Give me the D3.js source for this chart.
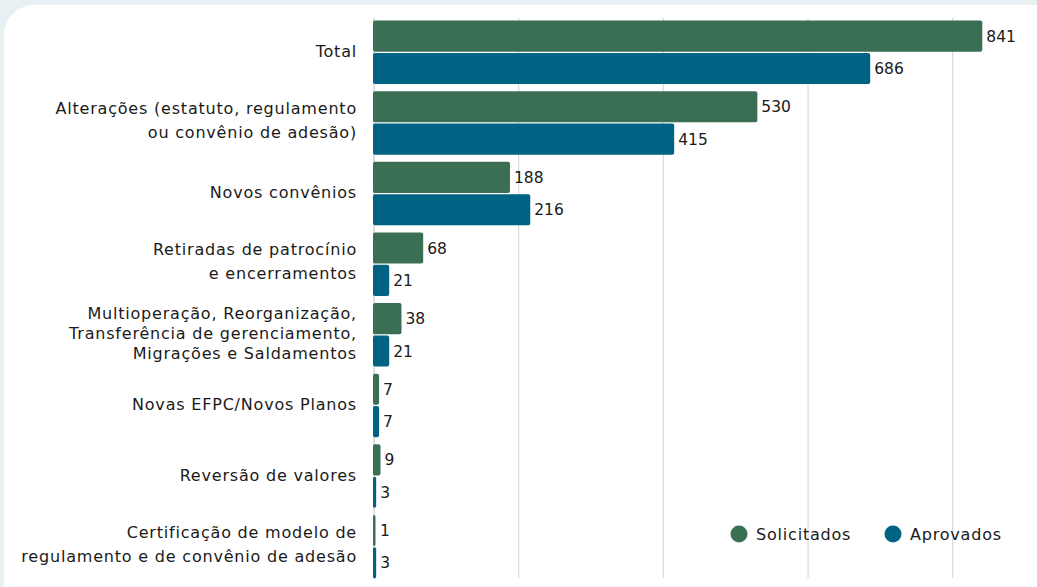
<!DOCTYPE html>
<html>
<head>
<meta charset="utf-8">
<script src="https://cdn.jsdelivr.net/npm/d3@7"></script>
<style>
  html, body { margin: 0; padding: 0; background: #e9f0f3; }
  svg { display: block; font-family: 'DejaVu Sans', sans-serif; }
  .cat, .leg { letter-spacing: 0.8px; }
</style>
</head>
<body>
<div></div>
<script>
const w = 1037;
const h = 587;

// data
const categories = [
  ['Total'],
  ['Alterações (estatuto, regulamento', 'ou convênio de adesão)'],
  ['Novos convênios'],
  ['Retiradas de patrocínio', 'e encerramentos'],
  ['Multioperação, Reorganização,', 'Transferência de gerenciamento,', 'Migrações e Saldamentos'],
  ['Novas EFPC/Novos Planos'],
  ['Reversão de valores'],
  ['Certificação de modelo de', 'regulamento e de convênio de adesão']
];
const solicitados = [841, 530, 188, 68, 38, 7, 9, 1];
const aprovados = [686, 415, 216, 21, 21, 7, 3, 3];
const seriesNames = ['Solicitados', 'Aprovados'];
const seriesColors = ['#3a6f54', '#006383'];
const gridTicks = [200, 400, 600, 800];

const svg = d3
  .select('body')
  .select('div')
  .append('svg')
  .attr('width', w)
  .attr('height', h);

// card
svg
  .append('rect')
  .attr('x', 4)
  .attr('y', 5)
  .attr('width', 1060)
  .attr('height', 640)
  .attr('rx', 30)
  .style('fill', '#ffffff');

const x = d3.scaleLinear().domain([0, 900]).range([374, 1025]);

const y = d3
  .scaleBand()
  .domain(d3.range(categories.length))
  .range([17, 582])
  .paddingInner(0.1)
  .paddingOuter(0.05);

const ySub = d3
  .scaleBand()
  .domain([0, 1])
  .range([0, y.bandwidth()])
  .paddingInner(0.04);

// grid lines
svg
  .selectAll('.grid')
  .data(gridTicks)
  .enter()
  .append('line')
  .attr('class', 'grid')
  .attr('x1', (d) => x(d))
  .attr('x2', (d) => x(d))
  .attr('y1', 18)
  .attr('y2', 578)
  .style('stroke', '#d4d4d4')
  .style('stroke-width', 1);

// baseline
svg
  .append('line')
  .attr('x1', x(0))
  .attr('x2', x(0))
  .attr('y1', 18)
  .attr('y2', 578)
  .style('stroke', '#bdbdbd')
  .style('stroke-width', 1);

const rows = categories.map((c, i) => ({
  i: i,
  values: [solicitados[i], aprovados[i]]
}));

const groups = svg
  .selectAll('.group')
  .data(rows)
  .enter()
  .append('g')
  .attr('class', 'group')
  .attr('transform', (d) => `translate(0, ${y(d.i)})`);

groups
  .selectAll('rect')
  .data((d) => d.values.map((v, s) => ({ v: v, s: s })))
  .enter()
  .append('rect')
  .attr('x', x(0) - 1)
  .attr('y', (d) => ySub(d.s))
  .attr('width', (d) => Math.max(x(d.v) - x(0) + 1, 2.5))
  .attr('height', ySub.bandwidth())
  .attr('rx', 2)
  .style('fill', (d) => seriesColors[d.s]);

groups
  .selectAll('.val')
  .data((d) => d.values.map((v, s) => ({ v: v, s: s })))
  .enter()
  .append('text')
  .attr('class', 'val')
  .attr('x', (d) => Math.max(x(d.v), x(0) + 2) + 4)
  .attr('y', (d) => ySub(d.s) + ySub.bandwidth() / 2)
  .attr('dy', '0.36em')
  .style('font-size', '15.5px')
  .style('fill', '#1a1a1a')
  .text((d) => d.v);

// category labels
const labels = svg
  .selectAll('.cat')
  .data(categories)
  .enter()
  .append('text')
  .attr('class', 'cat')
  .attr('text-anchor', 'end')
  .style('font-size', '16px')
  .style('fill', '#1a1a1a');

labels.each(function (lines, i) {
  const lh = lines.length > 2 ? 20 : 24;
  const cy = y(i) + y.bandwidth() / 2 - (lines.length === 2 ? 2.5 : 1);
  const top = cy - ((lines.length - 1) * lh) / 2;
  d3.select(this)
    .selectAll('tspan')
    .data(lines)
    .enter()
    .append('tspan')
    .attr('x', 357)
    .attr('y', (d, j) => top + j * lh)
    .attr('dy', '0.35em')
    .text((d) => d);
});

// legend
const legend = svg
  .append('g')
  .attr('id', 'legend')
  .attr('transform', 'translate(739, 534)');

const legendItems = legend
  .selectAll('g')
  .data(seriesNames)
  .enter()
  .append('g')
  .attr('transform', (d, i) => `translate(${i * 154}, 0)`);

legendItems
  .append('circle')
  .attr('r', 8.5)
  .style('fill', (d, i) => seriesColors[i]);

legendItems
  .append('text')
  .attr('class', 'leg')
  .attr('x', 17)
  .attr('dy', '0.35em')
  .style('font-size', '16px')
  .style('fill', '#1a1a1a')
  .text((d) => d);
</script>
</body>
</html>
